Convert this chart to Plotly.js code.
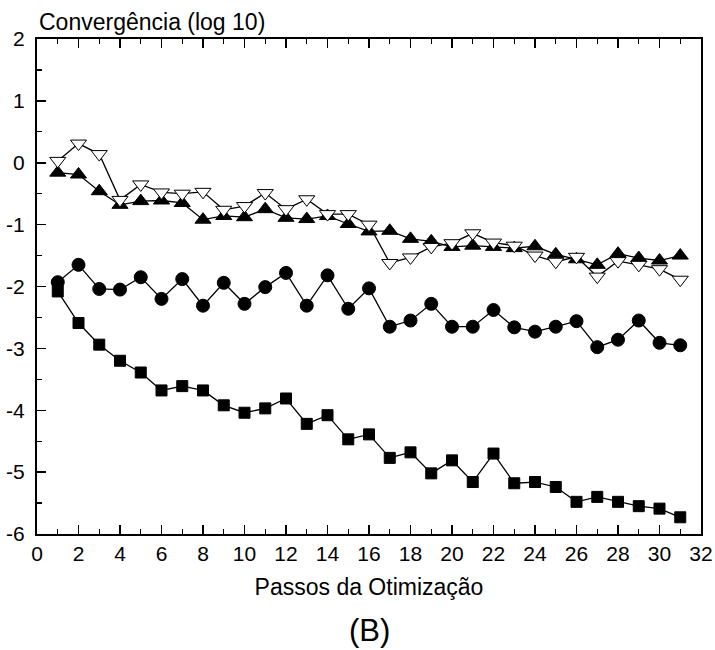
<!DOCTYPE html>
<html>
<head>
<meta charset="utf-8">
<script src="https://cdn.plot.ly/plotly-3.0.1.min.js"></script>
<style>
  html, body { margin: 0; padding: 0; background: #fff; }
  #chart { width: 715px; height: 650px; }
</style>
</head>
<body>
<div id="chart"></div>
<script>
// Optimization steps (x) and log10 convergence for four criteria
const steps = [1,2,3,4,5,6,7,8,9,10,11,12,13,14,15,16,17,18,19,20,21,22,23,24,25,26,27,28,29,30,31];

const openTriangle = [0.03,0.31,0.14,-0.60,-0.35,-0.48,-0.50,-0.47,-0.76,-0.70,-0.49,-0.75,-0.59,-0.83,-0.83,-1.00,
  -1.62,-1.53,-1.36,-1.30,-1.14,-1.29,-1.34,-1.50,-1.60,-1.52,-1.84,-1.59,-1.65,-1.72,-1.89];

const filledTriangle = [-0.16,-0.19,-0.46,-0.68,-0.62,-0.61,-0.65,-0.92,-0.86,-0.88,-0.75,-0.89,-0.91,-0.86,-0.99,-1.11,
  -1.10,-1.23,-1.27,-1.36,-1.34,-1.36,-1.38,-1.35,-1.48,-1.56,-1.65,-1.47,-1.54,-1.58,-1.50];

const circles = [-1.93,-1.65,-2.04,-2.05,-1.85,-2.20,-1.88,-2.31,-1.94,-2.28,-2.01,-1.78,-2.31,-1.82,-2.36,-2.03,
  -2.65,-2.55,-2.28,-2.65,-2.65,-2.38,-2.66,-2.73,-2.65,-2.56,-2.98,-2.86,-2.55,-2.91,-2.95];

const squares = [-2.08,-2.59,-2.94,-3.20,-3.39,-3.68,-3.61,-3.68,-3.92,-4.04,-3.97,-3.81,-4.22,-4.08,-4.47,-4.39,
  -4.77,-4.68,-5.02,-4.81,-5.16,-4.70,-5.18,-5.16,-5.24,-5.48,-5.40,-5.48,-5.55,-5.59,-5.73];

// Axis tick values and their labels (plain hyphen for negatives)
const xTickVals = [0,2,4,6,8,10,12,14,16,18,20,22,24,26,28,30,32];
const xTickText = xTickVals.map(String);
const yTickVals = [2,1,0,-1,-2,-3,-4,-5,-6];
const yTickText = ['2','1','0','-1','-2','-3','-4','-5','-6'];

const FONT = 'Liberation Sans, Arial, Helvetica, sans-serif';
const lineStyle = { color: '#000', width: 1.3 };

function series(y, symbol, size, fill) {
  return {
    x: steps, y: y, type: 'scatter', mode: 'lines+markers',
    line: lineStyle,
    marker: { symbol: symbol, size: size, color: fill, line: { color: '#000', width: 1 } },
    showlegend: false, cliponaxis: false
  };
}

const traces = [
  series(squares, 'square', 11, '#000'),
  series(circles, 'circle', 13, '#000'),
  series(filledTriangle, 'triangle-up', 14, '#000'),
  series(openTriangle, 'triangle-down', 14, '#fff')
];

const layout = {
  width: 715, height: 650,
  margin: { l: 37, r: 14, t: 39, b: 116 },
  paper_bgcolor: '#fff', plot_bgcolor: '#fff',
  font: { family: FONT, color: '#000', size: 21 },
  xaxis: {
    range: [0, 32], tickvals: xTickVals, ticktext: xTickText,
    ticks: 'inside', ticklen: 9, tickwidth: 1.5, tickcolor: '#000',
    minor: { dtick: 1, ticks: 'inside', ticklen: 5, tickwidth: 1.2, tickcolor: '#000' },
    showline: true, linewidth: 2, linecolor: '#000', mirror: 'allticks',
    showgrid: false, zeroline: false,
    tickfont: { family: FONT, size: 21 },
    title: { text: 'Passos da Otimização', font: { family: FONT, size: 23 }, standoff: 15 }
  },
  yaxis: {
    range: [-6, 2], tickvals: yTickVals, ticktext: yTickText,
    ticks: 'inside', ticklen: 9, tickwidth: 1.5, tickcolor: '#000',
    minor: { dtick: 0.5, ticks: 'inside', ticklen: 5, tickwidth: 1.2, tickcolor: '#000' },
    showline: true, linewidth: 2, linecolor: '#000', mirror: true,
    showgrid: false, zeroline: false, ticklabelstandoff: 6,
    tickfont: { family: FONT, size: 21 }
  },
  annotations: [
    { text: 'Convergência (log 10)', xref: 'paper', yref: 'paper', x: 0, y: 1,
      xanchor: 'left', yanchor: 'bottom', yshift: 2, xshift: 0, showarrow: false,
      font: { family: FONT, size: 23 } },
    { text: '(B)', xref: 'paper', yref: 'paper', x: 0.5, y: 0,
      xanchor: 'center', yanchor: 'middle', yshift: -96, showarrow: false,
      font: { family: FONT, size: 31 } }
  ]
};

Plotly.newPlot('chart', traces, layout, { staticPlot: true, displayModeBar: false });
</script>
</body>
</html>
